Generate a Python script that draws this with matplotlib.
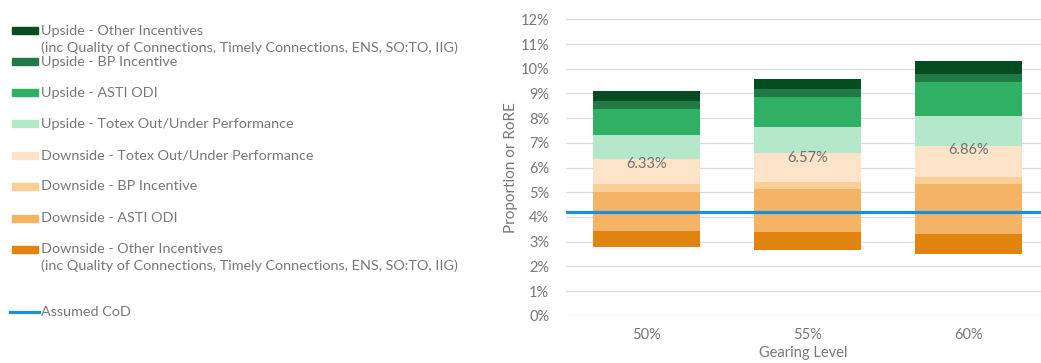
import numpy as np
import matplotlib
matplotlib.use("Agg")
import matplotlib.pyplot as plt
from matplotlib.patches import Rectangle
from matplotlib.lines import Line2D

plt.rcParams['font.family'] = ['Lato', 'DejaVu Sans']

gearing = ['50%', '55%', '60%']
base = [2.77, 2.68, 2.51]
down_other = [0.66, 0.69, 0.80]
down_asti = [1.58, 1.77, 2.01]
down_bp = [0.32, 0.29, 0.28]
down_totex = [1.00, 1.14, 1.26]
up_totex = [0.97, 1.09, 1.22]
up_asti = [1.07, 1.20, 1.38]
up_bp = [0.31, 0.31, 0.32]
up_other = [0.43, 0.43, 0.52]
rore = [6.33, 6.57, 6.86]
cod = 4.19

series = [
    ('Downside - Other Incentives\n(inc Quality of Connections, Timely Connections, ENS, SO:TO, IIG)', down_other, '#e0830f'),
    ('Downside - ASTI ODI', down_asti, '#f5b465'),
    ('Downside - BP Incentive', down_bp, '#fbcf95'),
    ('Downside - Totex Out/Under Performance', down_totex, '#fde4c8'),
    ('Upside - Totex Out/Under Performance', up_totex, '#b5e8cb'),
    ('Upside - ASTI ODI', up_asti, '#2fb065'),
    ('Upside - BP Incentive', up_bp, '#1f7a45'),
    ('Upside - Other Incentives\n(inc Quality of Connections, Timely Connections, ENS, SO:TO, IIG)', up_other, '#044d21'),
]

txt = '#787878'
fig = plt.figure(figsize=(10.41, 3.63), dpi=100)
ax = fig.add_axes([0.5437, 0.1303, 0.4563, 0.8165])

x = np.arange(len(gearing))
bottom = np.array(base, dtype=float)
for name, vals, col in series:
    ax.bar(x, vals, bottom=bottom, width=0.665, color=col, zorder=2)
    bottom = bottom + np.array(vals)

ax.axhline(cod, color='#1a8fdc', lw=2.3, zorder=3)

for xi, r in zip(x, rore):
    ax.text(xi, r - 0.17, f'{r:.2f}%', ha='center', va='center', color='#707070', fontsize=10.5, zorder=4)

ax.set_xlim(-0.5, 2.45)
ax.set_ylim(0, 12)
ax.set_yticks(np.arange(0, 13, 1))
ax.set_yticklabels([f'{v}%' for v in range(13)])
ax.set_xticks(x)
ax.set_xticklabels(gearing)
ax.grid(axis='y', color='#dcdcdc', lw=0.9, zorder=0)
ax.tick_params(length=0, colors=txt, labelsize=10.5)
ax.tick_params(axis='y', pad=12)
ax.tick_params(axis='x', pad=9)
for s in ax.spines.values():
    s.set_visible(False)
ax.set_ylabel('Proportion or RoRE', color=txt, fontsize=11, labelpad=2)
ax.set_xlabel('Gearing Level', color=txt, fontsize=10.5, labelpad=3)

# legend drawn at the left
H = 363.0
W = 1041.0
rows = [30.7, 61.7, 92.7, 123.7, 155.3, 186.3, 218.0, 249.0]
for (name, vals, col), yc in zip(series[::-1], rows):
    fig.add_artist(Rectangle((12 / W, 1 - (yc + 3.5) / H), 26 / W, 7 / H,
                             color=col, transform=fig.transFigure))
    lines = name.split('\n')
    fig.text(41 / W, 1 - yc / H, lines[0], color=txt, fontsize=10.4, va='center')
    if len(lines) > 1:
        fig.text(41 / W, 1 - (yc + 17) / H, lines[1], color=txt, fontsize=10.4, va='center')
fig.add_artist(Line2D([10 / W, 39 / W], [1 - 311.7 / H] * 2, color='#1a8fdc', lw=2.3,
                      transform=fig.transFigure))
fig.text(41 / W, 1 - 311.7 / H, 'Assumed CoD', color=txt, fontsize=10.4, va='center')

fig.savefig('out.png', dpi=100)
